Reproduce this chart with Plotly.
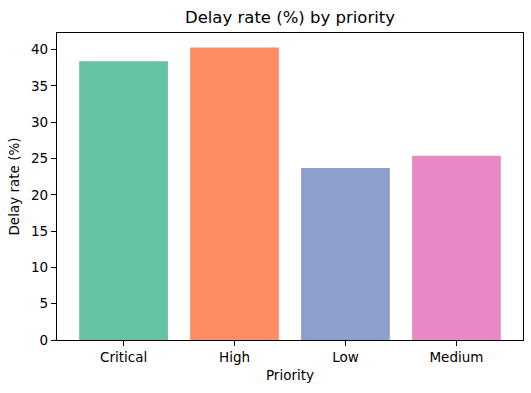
import plotly.graph_objects as go

categories = ["Critical", "High", "Low", "Medium"]
delay_rate = [38.4, 40.3, 23.7, 25.4]
colors = ["#66c2a5", "#fc8d62", "#8da0cb", "#e78ac3"]

fig = go.Figure(go.Bar(x=list(range(len(categories))), y=delay_rate, marker_color=colors,
                       marker_line_width=0, width=0.8))

font = "DejaVu Sans"
fig.update_layout(
    width=531, height=393,
    margin=dict(l=57, r=8, t=32.5, b=52.7, autoexpand=False),
    plot_bgcolor="white", paper_bgcolor="white",
    font=dict(family=font, size=13.5, color="black"),
    title=dict(text="Delay rate (%) by priority", x=0.5, xref="paper", xanchor="center",
               y=0.955, yanchor="middle",
               font=dict(size=16.5, family=font, color="black")),
    showlegend=False,
)
fig.update_xaxes(
    automargin=False,
    range=[-0.6, 3.6], tickmode="array", tickvals=list(range(len(categories))), ticktext=categories,
    showline=True, linecolor="black", linewidth=1.2, mirror=True, ticks="outside", ticklen=5,
    tickcolor="black", showgrid=False, zeroline=False,
    title=dict(text="Priority", font=dict(size=13.5, family=font), standoff=6),
)
fig.update_yaxes(
    automargin=False,
    range=[0, 42.3], tickvals=[0, 5, 10, 15, 20, 25, 30, 35, 40],
    showline=True, linecolor="black", linewidth=1.2, mirror=True, ticks="outside", ticklen=5,
    tickcolor="black", showgrid=False, zeroline=False,
    title=dict(text="Delay rate (%)", font=dict(size=13.5, family=font), standoff=8),
)
fig.write_html("out.html", config={"displayModeBar": False},
               post_script="document.body.style.margin='0';document.body.style.overflow='hidden';")
